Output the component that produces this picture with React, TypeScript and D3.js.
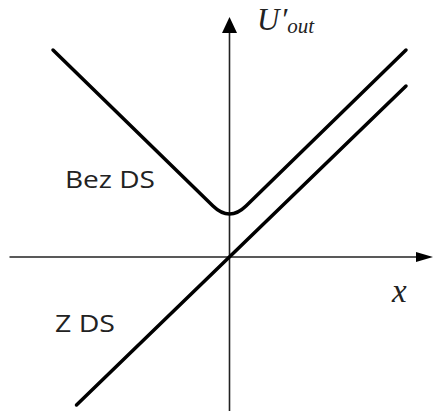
import React from "react";
import * as d3 from "d3";

// Axis extents (data units; origin at the axes crossing)
const xAxisRange = [-2.2, 2.035];
const yAxisRange = [-1.54, 2.4];

// Z DS: straight characteristic through the origin
const zdsX = [-1.53, 1.765];
const zdsY = [-1.48, 1.71];

// Bez DS: V-shaped characteristic with a rounded bottom.
// Points: left end, corner start, asymptote vertex (curve control), corner end, right end
const bezX = [-1.765, -0.165, 0, 0.165, 1.765];
const bezY = [2.07, 0.51, 0.35, 0.51, 2.07];

const labels = ["Bez DS", "Z DS"];

const W = 435;
const H = 411;

export default function App() {
  const x = d3.scaleLinear().domain([-2.2, 2.035]).range([9.5, 433]);
  const y = d3.scaleLinear().domain([-1.54, 2.4]).range([411, 17]);

  const x0 = x(0);
  const y0 = y(0);

  const zdsLine = d3.line<number>()
    .x((_, i) => x(zdsX[i]))
    .y((_, i) => y(zdsY[i]))(zdsX);

  const p = d3.path();
  p.moveTo(x(bezX[0]), y(bezY[0]));
  p.lineTo(x(bezX[1]), y(bezY[1]));
  p.quadraticCurveTo(x(bezX[2]), y(bezY[2]), x(bezX[3]), y(bezY[3]));
  p.lineTo(x(bezX[4]), y(bezY[4]));

  const xEnd = x(xAxisRange[1]);
  const yTop = y(yAxisRange[1]);
  const axisColor = "#222";

  return (
    <svg
      width={W}
      height={H}
      style={{ position: "absolute", left: 0, top: 0, background: "#fff" }}
    >
      {/* horizontal axis */}
      <line x1={x(xAxisRange[0])} y1={y0} x2={xEnd - 14} y2={y0} stroke={axisColor} strokeWidth={1.6} />
      <path
        d={`M${xEnd},${y0} L${xEnd - 17},${y0 - 5} L${xEnd - 17},${y0 + 5} Z`}
        fill="#000"
      />
      {/* vertical axis */}
      <line x1={x0} y1={y(yAxisRange[0])} x2={x0} y2={yTop + 14} stroke={axisColor} strokeWidth={1.6} />
      <path
        d={`M${x0},${yTop} L${x0 - 7.5},${yTop + 16} L${x0 + 7.5},${yTop + 16} Z`}
        fill="#000"
      />

      {/* characteristics */}
      <path d={zdsLine ?? ""} fill="none" stroke="#000" strokeWidth={3.5} strokeLinecap="round" />
      <path d={p.toString()} fill="none" stroke="#000" strokeWidth={3.5} strokeLinecap="round" strokeLinejoin="round" />

      {/* labels */}
      <text x={65} y={188} fontFamily="'Open Sans', sans-serif" fontSize={23.5} fill="#222"
        textLength={90} lengthAdjust="spacingAndGlyphs">{labels[0]}</text>
      <text x={55} y={332} fontFamily="'Open Sans', sans-serif" fontSize={23.5} fill="#222"
        textLength={60} lengthAdjust="spacingAndGlyphs">{labels[1]}</text>

      {/* axis titles */}
      <text x={257} y={30} fontFamily="'Liberation Serif', serif" fontStyle="italic" fontSize={31} fill="#222">
        U<tspan dx={1}>′</tspan>
        <tspan fontSize={21} dy={3}>out</tspan>
      </text>
      <text x={392} y={302} fontFamily="'Liberation Serif', serif" fontStyle="italic" fontSize={33} fill="#222">
        x
      </text>
    </svg>
  );
}
